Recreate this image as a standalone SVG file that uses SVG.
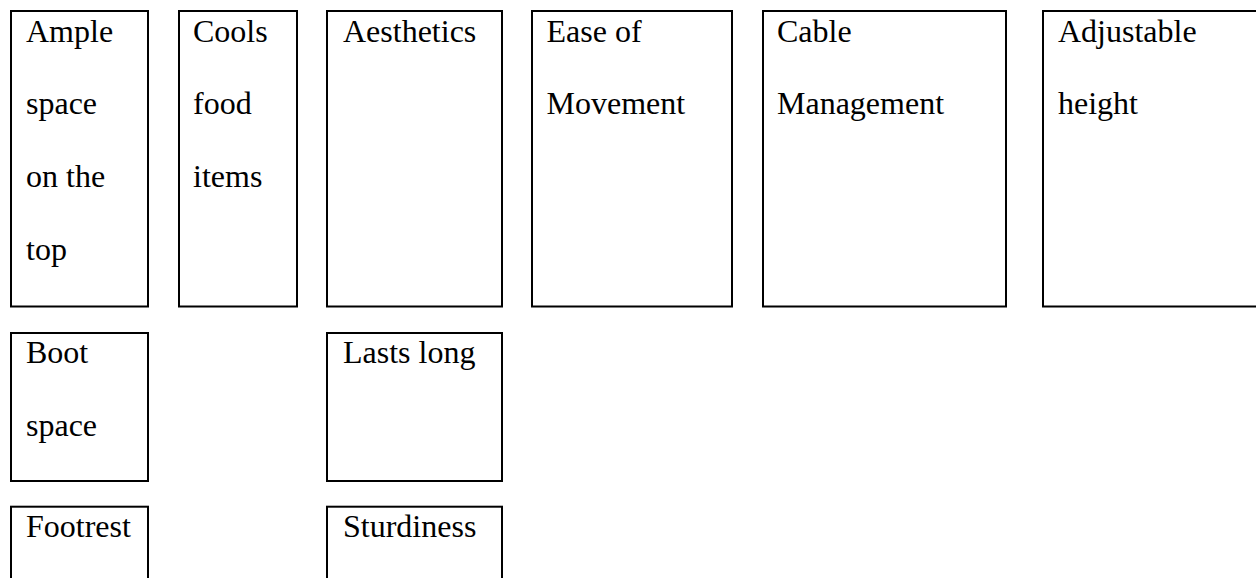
<svg xmlns="http://www.w3.org/2000/svg" width="1256" height="578" viewBox="0 0 1256 578">
<style>
.box{fill:#fff;stroke:#000;stroke-width:2}
.t{font-family:"Liberation Serif","Times New Roman",serif;font-size:32px;fill:#000}
</style>
<rect width="1256" height="578" fill="#fff"/>
<g id="n-ample"><rect class="box" x="11" y="11" width="137" height="295.5"/>
<text class="t" x="26" y="41.7">Ample</text><text class="t" x="26" y="114.3">space</text><text class="t" x="26" y="187">on the</text><text class="t" x="26" y="259.7">top</text></g>
<g id="n-cools"><rect class="box" x="179" y="11" width="118" height="295.5"/>
<text class="t" x="193" y="41.7">Cools</text><text class="t" x="193" y="114.3">food</text><text class="t" x="193" y="187">items</text></g>
<g id="n-aesthetics"><rect class="box" x="327" y="11" width="175" height="295.5"/>
<text class="t" x="343" y="41.7">Aesthetics</text></g>
<g id="n-ease"><rect class="box" x="532" y="11" width="200" height="295.5"/>
<text class="t" x="546.5" y="41.7">Ease of</text><text class="t" x="546.5" y="114.3">Movement</text></g>
<g id="n-cable"><rect class="box" x="763" y="11" width="243" height="295.5"/>
<text class="t" x="777" y="41.7">Cable</text><text class="t" x="777" y="114.3">Management</text></g>
<g id="n-adjustable"><rect class="box" x="1043" y="11" width="230" height="295.5"/>
<text class="t" x="1058" y="41.7">Adjustable</text><text class="t" x="1058" y="114.3">height</text></g>
<g id="n-boot"><rect class="box" x="11" y="333" width="137" height="148"/>
<text class="t" x="26" y="362.7">Boot</text><text class="t" x="26" y="435.7">space</text></g>
<g id="n-lasts"><rect class="box" x="327" y="333" width="175" height="148"/>
<text class="t" x="343" y="362.7">Lasts long</text></g>
<g id="n-footrest"><rect class="box" x="11" y="506.7" width="137" height="100"/>
<text class="t" x="26" y="537.3">Footrest</text></g>
<g id="n-sturdiness"><rect class="box" x="327" y="506.7" width="175" height="100"/>
<text class="t" x="343" y="537.3">Sturdiness</text></g>
<g id="connectors"></g>
</svg>
